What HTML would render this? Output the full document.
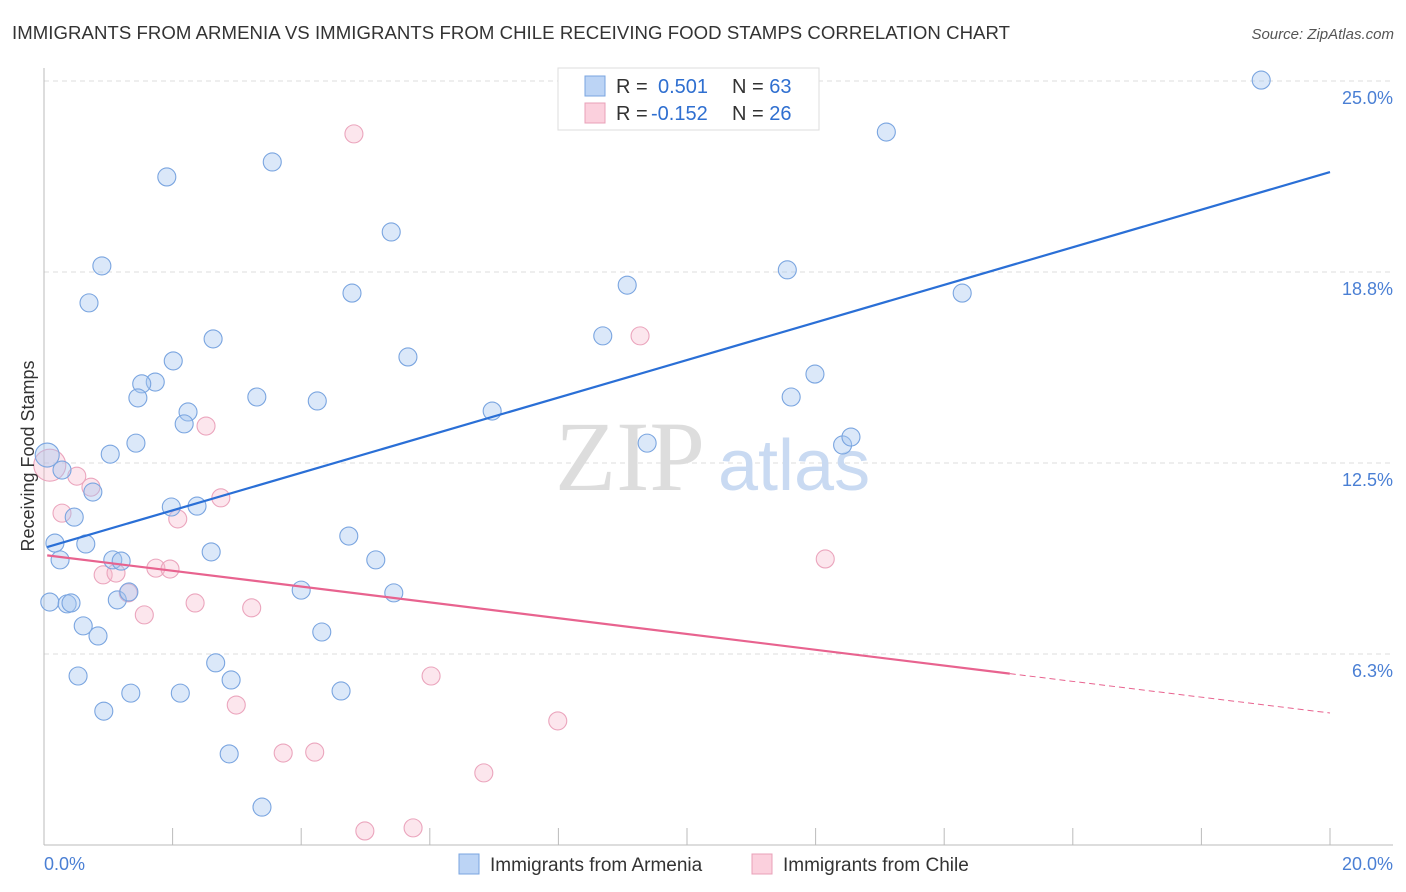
<!DOCTYPE html>
<html><head><meta charset="utf-8"><style>
body{margin:0;background:#fff;font-family:"Liberation Sans",sans-serif;}
svg{display:block}
</style></head><body>
<svg width="1406" height="892" viewBox="0 0 1406 892">
<text x="12" y="39" font-size="18.6" fill="#333" textLength="998">IMMIGRANTS FROM ARMENIA VS IMMIGRANTS FROM CHILE RECEIVING FOOD STAMPS CORRELATION CHART</text>
<text x="1394" y="39" font-size="15" fill="#555" font-style="italic" text-anchor="end">Source: ZipAtlas.com</text>
<g id="grid"></g>
<text x="555" y="490" font-size="100" fill="#ddd" font-family="Liberation Serif,serif">ZIP</text>
<text x="718" y="490" font-size="72" fill="#c9daf2">atlas</text>
<g id="pts"></g>
<g id="lines"></g>
<text transform="translate(34,456) rotate(-90)" font-size="18" fill="#333" text-anchor="middle">Receiving Food Stamps</text>
<text x="44" y="870" font-size="18" fill="#4a7fd4">0.0%</text>
<text x="1393" y="870" font-size="18" fill="#4a7fd4" text-anchor="end">20.0%</text>
<g>
<rect x="558" y="68" width="261" height="62" fill="#fff" stroke="#ddd"/>
<rect x="585" y="76" width="20" height="20" fill="#bcd4f5" stroke="#7aa5e0"/>
<rect x="585" y="103" width="20" height="20" fill="#fbd0dd" stroke="#e8a0b8"/>
<text x="616" y="93" font-size="20" fill="#333">R = <tspan fill="#2f6fd0" x="658">0.501</tspan><tspan x="732">N = </tspan><tspan fill="#2f6fd0">63</tspan></text>
<text x="616" y="120" font-size="20" fill="#333">R = <tspan fill="#2f6fd0" x="651">-0.152</tspan><tspan x="732">N = </tspan><tspan fill="#2f6fd0">26</tspan></text>
</g>
<g>
<rect x="459" y="854" width="20" height="20" fill="#bcd4f5" stroke="#7aa5e0"/>
<text x="490" y="871" font-size="19" fill="#333">Immigrants from Armenia</text>
<rect x="752" y="854" width="20" height="20" fill="#fbd0dd" stroke="#e8a0b8"/>
<text x="783" y="871" font-size="19" fill="#333">Immigrants from Chile</text>
</g>
</svg>
<script>
const yTicks=[6.25,12.5,18.75,25];
const yTickLabels=["6.3%","12.5%","18.8%","25.0%"];
const xTicks=[0,2,4,6,8,10,12,14,16,18,20];
const armeniaX=[0.05,0.28,0.76,0.47,0.17,0.65,0.25,1.07,1.20,0.09,0.36,0.42,0.61,0.84,1.14,1.32,0.53,0.93,1.35,0.90,0.70,1.73,1.52,1.46,2.01,1.91,1.43,1.03,2.24,2.18,1.98,2.38,2.60,2.63,2.67,2.91,2.12,2.88,3.39,3.55,3.31,4.25,4.00,4.32,4.62,4.74,5.16,5.44,4.79,5.40,5.66,6.97,8.69,9.07,9.38,11.56,11.62,11.99,12.42,12.55,13.10,14.28,18.93];
const armeniaY=[12.76,12.27,11.55,10.73,9.88,9.85,9.33,9.33,9.29,7.95,7.89,7.92,7.17,6.84,8.02,8.28,5.53,4.38,4.97,18.95,17.74,15.15,15.09,14.63,15.84,21.86,13.15,12.79,14.17,13.78,11.06,11.09,9.59,16.56,5.96,5.40,4.97,2.98,1.24,22.35,14.66,14.53,8.34,6.97,5.04,10.11,9.33,8.25,18.06,20.06,15.97,14.20,16.66,18.32,13.15,18.82,14.66,15.41,13.09,13.35,23.33,18.06,25.03];
const chileX=[0.09,0.51,0.73,0.28,2.08,2.75,2.52,0.92,1.12,1.31,1.74,1.96,1.56,2.35,3.23,2.99,3.72,4.21,4.99,5.74,6.02,6.84,7.99,9.27,12.15,4.82];
const chileY=[12.43,12.07,11.71,10.86,10.67,11.36,13.71,8.84,8.90,8.25,9.06,9.03,7.53,7.92,7.76,4.58,3.01,3.04,0.46,0.56,5.53,2.36,4.06,16.66,9.36,23.27];
const armeniaTrend=[9.72,22.02];
const chileTrend=[9.49,4.32];
const chileSolidEnd=15.02;
const NS="http://www.w3.org/2000/svg";
const X=v=>44+v/20*1286, Y=v=>845-v*30.56;
function mk(t,a,p){const e=document.createElementNS(NS,t);for(const k in a)e.setAttribute(k,a[k]);p.appendChild(e);return e;}
const g=document.getElementById('grid');
yTicks.forEach((t,i)=>{
 const l=mk('line',{x1:44,x2:1393,y1:Y(t),y2:Y(t),stroke:'#ddd','stroke-dasharray':'5,4'},g);
 
 
 const tx=mk('text',{x:1393,y:Y(t)+23,'font-size':18,fill:'#4a7fd4','text-anchor':'end'},g);
 tx.textContent=yTickLabels[i];
 
 
});
const ax=mk('line',{x1:44,x2:44,y1:68,y2:845,stroke:'#bbb'},g);


const bx=mk('line',{x1:44,x2:1393,y1:845,y2:845,stroke:'#bbb'},g);


xTicks.forEach(t=>{
 const l=mk('line',{x1:X(t),x2:X(t),y1:828,y2:845,stroke:'#bbb'},g);
 
 
});
const p=document.getElementById('pts');
chileX.forEach((x,i)=>{
 const c=mk('circle',{cx:X(x),cy:Y(chileY[i]),r:i==0?16:9,fill:'rgba(247,183,203,0.35)',stroke:'#eba5bd','stroke-width':1.1},p);
 
 
});
armeniaX.forEach((x,i)=>{
 const c=mk('circle',{cx:X(x),cy:Y(armeniaY[i]),r:i==0?12:9,fill:'rgba(165,198,240,0.4)',stroke:'#7aa5e0','stroke-width':1.1},p);
 
 
});
const L=document.getElementById('lines');
const bl=mk('line',{x1:X(0.05),y1:Y(armeniaTrend[0]+(armeniaTrend[1]-armeniaTrend[0])*0.0025),x2:X(20),y2:Y(armeniaTrend[1]),stroke:'#2a6fd6','stroke-width':2.2},L);


const cy=x=>chileTrend[0]+(chileTrend[1]-chileTrend[0])*x/20;
const pl=mk('line',{x1:X(0.05),y1:Y(cy(0.05)),x2:X(chileSolidEnd),y2:Y(cy(chileSolidEnd)),stroke:'#e8638f','stroke-width':2.2},L);


const pd=mk('line',{x1:X(chileSolidEnd),y1:Y(cy(chileSolidEnd)),x2:X(20),y2:Y(cy(20)),stroke:'#e8638f','stroke-width':1,'stroke-dasharray':'6,4'},L);


</script>
</body></html>
